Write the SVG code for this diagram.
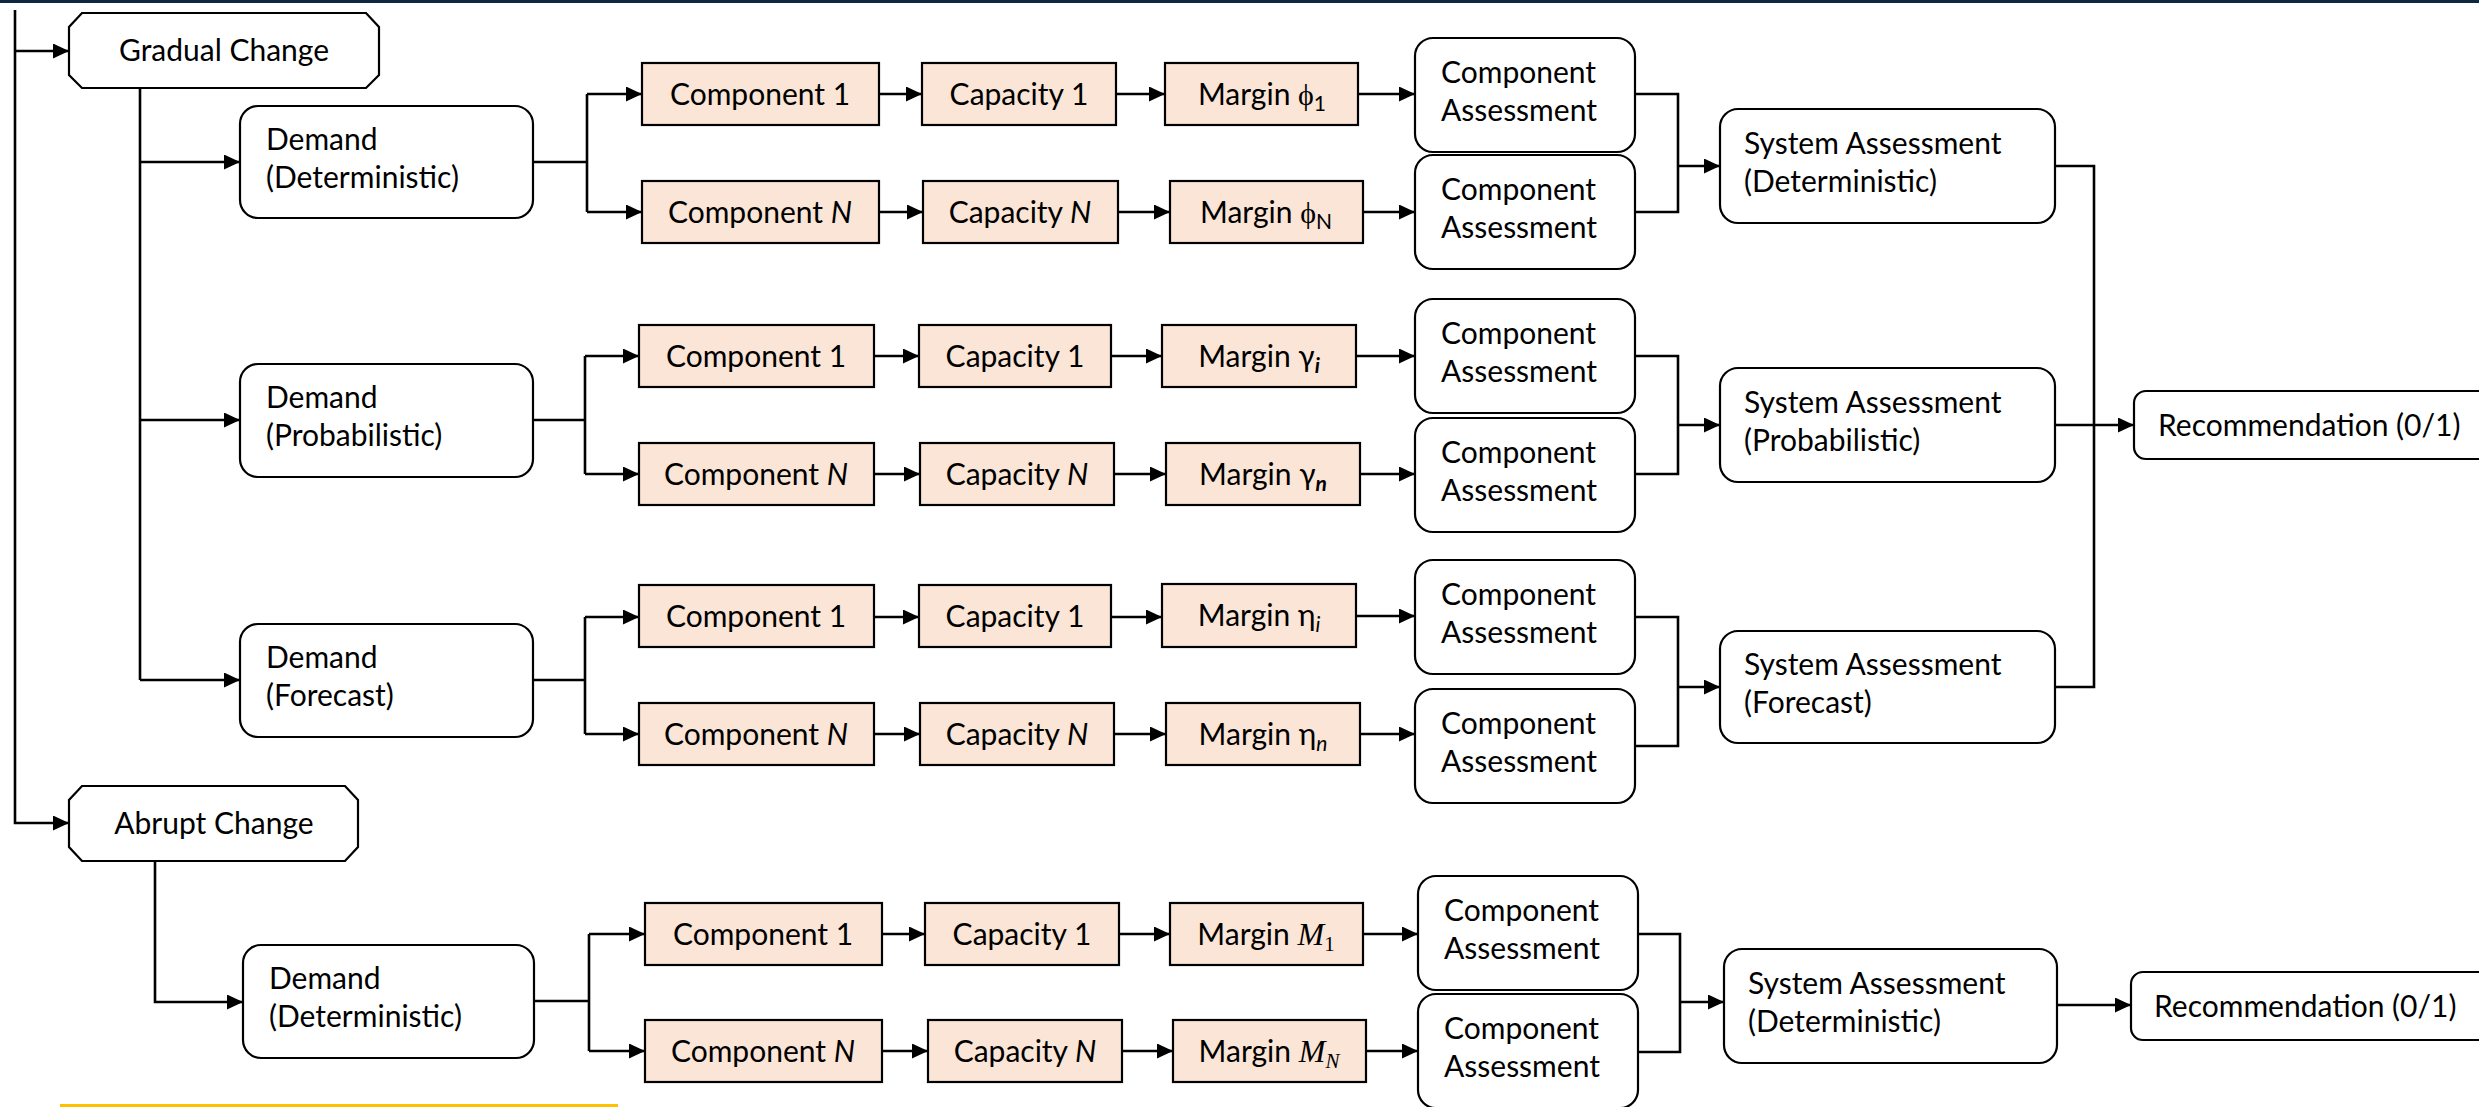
<svg xmlns="http://www.w3.org/2000/svg" width="2479" height="1107" viewBox="0 0 2479 1107">
  <style>
    text { font-family: "Lato", "Noto Sans", "DejaVu Sans", sans-serif; font-size: 30px; fill: #000; }
    .mid { text-anchor: middle; }
    .box { fill: #fbe5d6; stroke: #000; stroke-width: 2.2; }
    .node { fill: #fff; stroke: #000; stroke-width: 2.2; }
    .wire { fill: none; stroke: #000; stroke-width: 2.6; }
    .arr { marker-end: url(#head); }
    .sub { font-size: 21px; }
    .it { font-style: italic; }
    .bi { font-style: italic; font-weight: bold; }
    .phi { font-family: "Liberation Serif", "DejaVu Serif", serif; }
    .math { font-family: "Liberation Serif", "DejaVu Serif", serif; font-style: italic; font-size: 32px; }
    .mathsub { font-family: "Liberation Serif", "DejaVu Serif", serif; font-size: 21px; }
  </style>
  <defs>
    <marker id="head" markerUnits="userSpaceOnUse" markerWidth="16" markerHeight="15" refX="16" refY="7.5" orient="auto">
      <path d="M0,0 L16,7.5 L0,15 z" fill="#000"/>
    </marker>
  </defs>

  <rect x="0" y="0" width="2479" height="3" fill="#0e2841"/>
  <line x1="60" y1="1105.5" x2="618" y2="1105.5" stroke="#ffc000" stroke-width="3"/>

  <!-- connectors -->
  <g id="connectors">
    <path class="wire" d="M15,10 V823 H69" marker-end="url(#head)"/>
    <path class="wire arr" d="M15,51 H69"/>
    <path class="wire" d="M140,88 V680"/>
    <path class="wire arr" d="M140,162 H240"/>
    <path class="wire arr" d="M140,420 H240"/>
    <path class="wire arr" d="M140,680 H240"/>
    <path class="wire arr" d="M155,861 V1002 H243"/>

    <!-- deterministic branch -->
    <path class="wire" d="M533,162 H587 M587,94 V212"/>
    <path class="wire arr" d="M587,94 H642"/>
    <path class="wire arr" d="M587,212 H642"/>
    <path class="wire arr" d="M879,94 H922"/>
    <path class="wire arr" d="M1116,94 H1165"/>
    <path class="wire arr" d="M1358,94 H1415"/>
    <path class="wire arr" d="M879,212 H923"/>
    <path class="wire arr" d="M1118,212 H1170"/>
    <path class="wire arr" d="M1363,212 H1415"/>
    <path class="wire" d="M1635,94 H1678 V212 H1635"/>
    <path class="wire arr" d="M1678,166 H1720"/>

    <!-- probabilistic branch -->
    <path class="wire" d="M533,420 H585 M585,356 V474"/>
    <path class="wire arr" d="M585,356 H639"/>
    <path class="wire arr" d="M585,474 H639"/>
    <path class="wire arr" d="M874,356 H919"/>
    <path class="wire arr" d="M1111,356 H1162"/>
    <path class="wire arr" d="M1356,356 H1415"/>
    <path class="wire arr" d="M874,474 H920"/>
    <path class="wire arr" d="M1114,474 H1166"/>
    <path class="wire arr" d="M1360,474 H1415"/>
    <path class="wire" d="M1635,356 H1678 V474 H1635"/>
    <path class="wire arr" d="M1678,425 H1720"/>

    <!-- forecast branch -->
    <path class="wire" d="M533,680 H585 M585,617 V734"/>
    <path class="wire arr" d="M585,617 H639"/>
    <path class="wire arr" d="M585,734 H639"/>
    <path class="wire arr" d="M874,617 H919"/>
    <path class="wire arr" d="M1111,617 H1162"/>
    <path class="wire arr" d="M1356,616 H1415"/>
    <path class="wire arr" d="M874,734 H920"/>
    <path class="wire arr" d="M1114,734 H1166"/>
    <path class="wire arr" d="M1360,734 H1415"/>
    <path class="wire" d="M1635,617 H1678 V746 H1635"/>
    <path class="wire arr" d="M1678,687 H1720"/>

    <!-- system results to recommendation -->
    <path class="wire" d="M2055,166 H2094 V687 H2055"/>
    <path class="wire arr" d="M2055,425 H2134"/>

    <!-- abrupt change branch -->
    <path class="wire" d="M534,1001 H589 M589,934 V1051"/>
    <path class="wire arr" d="M589,934 H645"/>
    <path class="wire arr" d="M589,1051 H645"/>
    <path class="wire arr" d="M882,934 H925"/>
    <path class="wire arr" d="M1119,934 H1170"/>
    <path class="wire arr" d="M1363,934 H1418"/>
    <path class="wire arr" d="M882,1051 H928"/>
    <path class="wire arr" d="M1122,1051 H1173"/>
    <path class="wire arr" d="M1366,1051 H1418"/>
    <path class="wire" d="M1638,934 H1680 V1052 H1638"/>
    <path class="wire arr" d="M1680,1002 H1724"/>
    <path class="wire arr" d="M2057,1005 H2131"/>
  </g>

  <!-- change types -->
  <g id="gradual-change">
    <polygon class="node" points="82,13 366,13 379,27 379,75 366,88 82,88 69,75 69,27"/>
    <text class="mid" x="224" y="61">Gradual Change</text>
  </g>
  <g id="abrupt-change">
    <polygon class="node" points="82,786 345,786 358,800 358,847 345,861 82,861 69,847 69,800"/>
    <text class="mid" x="214" y="834">Abrupt Change</text>
  </g>

  <!-- demand nodes -->
  <g id="demand-deterministic">
    <rect class="node" x="240" y="106" width="293" height="112" rx="18"/>
    <text x="266" y="150">Demand</text>
    <text x="266" y="188">(Deterministic)</text>
  </g>
  <g id="demand-probabilistic">
    <rect class="node" x="240" y="364" width="293" height="113" rx="18"/>
    <text x="266" y="408">Demand</text>
    <text x="266" y="446">(Probabilistic)</text>
  </g>
  <g id="demand-forecast">
    <rect class="node" x="240" y="624" width="293" height="113" rx="18"/>
    <text x="266" y="668">Demand</text>
    <text x="266" y="706">(Forecast)</text>
  </g>
  <g id="demand-abrupt">
    <rect class="node" x="243" y="945" width="291" height="113" rx="18"/>
    <text x="269" y="989">Demand</text>
    <text x="269" y="1027">(Deterministic)</text>
  </g>

  <!-- deterministic chain -->
  <g id="det-component-1"><rect class="box" x="642" y="63" width="237" height="62"/><text class="mid" x="760" y="105">Component 1</text></g>
  <g id="det-capacity-1"><rect class="box" x="922" y="63" width="194" height="62"/><text class="mid" x="1019" y="105">Capacity 1</text></g>
  <g id="det-margin-1"><rect class="box" x="1165" y="63" width="193" height="62"/><text class="mid" x="1262" y="105">Margin <tspan class="phi">ϕ</tspan><tspan class="sub" dy="6">1</tspan></text></g>
  <g id="det-component-n"><rect class="box" x="642" y="181" width="237" height="62"/><text class="mid" x="760" y="223">Component <tspan class="it">N</tspan></text></g>
  <g id="det-capacity-n"><rect class="box" x="923" y="181" width="195" height="62"/><text class="mid" x="1020" y="223">Capacity <tspan class="it">N</tspan></text></g>
  <g id="det-margin-n"><rect class="box" x="1170" y="181" width="193" height="62"/><text class="mid" x="1266" y="223">Margin <tspan class="phi">ϕ</tspan><tspan class="sub" dy="6">N</tspan></text></g>
  <g id="det-assess-1"><rect class="node" x="1415" y="38" width="220" height="114" rx="18"/><text x="1441" y="83">Component</text><text x="1441" y="121">Assessment</text></g>
  <g id="det-assess-n"><rect class="node" x="1415" y="155" width="220" height="114" rx="18"/><text x="1441" y="200">Component</text><text x="1441" y="238">Assessment</text></g>
  <g id="det-system"><rect class="node" x="1720" y="109" width="335" height="114" rx="18"/><text x="1744" y="154">System Assessment</text><text x="1744" y="192">(Deterministic)</text></g>

  <!-- probabilistic chain -->
  <g id="prob-component-1"><rect class="box" x="639" y="325" width="235" height="62"/><text class="mid" x="756" y="367">Component 1</text></g>
  <g id="prob-capacity-1"><rect class="box" x="919" y="325" width="192" height="62"/><text class="mid" x="1015" y="367">Capacity 1</text></g>
  <g id="prob-margin-1"><rect class="box" x="1162" y="325" width="194" height="62"/><text class="mid" x="1259" y="367">Margin γ<tspan class="sub bi" dy="6">i</tspan></text></g>
  <g id="prob-component-n"><rect class="box" x="639" y="443" width="235" height="62"/><text class="mid" x="756" y="485">Component <tspan class="it">N</tspan></text></g>
  <g id="prob-capacity-n"><rect class="box" x="920" y="443" width="194" height="62"/><text class="mid" x="1017" y="485">Capacity <tspan class="it">N</tspan></text></g>
  <g id="prob-margin-n"><rect class="box" x="1166" y="443" width="194" height="62"/><text class="mid" x="1263" y="485">Margin γ<tspan class="sub bi" dy="6">n</tspan></text></g>
  <g id="prob-assess-1"><rect class="node" x="1415" y="299" width="220" height="114" rx="18"/><text x="1441" y="344">Component</text><text x="1441" y="382">Assessment</text></g>
  <g id="prob-assess-n"><rect class="node" x="1415" y="418" width="220" height="114" rx="18"/><text x="1441" y="463">Component</text><text x="1441" y="501">Assessment</text></g>
  <g id="prob-system"><rect class="node" x="1720" y="368" width="335" height="114" rx="18"/><text x="1744" y="413">System Assessment</text><text x="1744" y="451">(Probabilistic)</text></g>

  <!-- forecast chain -->
  <g id="fc-component-1"><rect class="box" x="639" y="585" width="235" height="62"/><text class="mid" x="756" y="627">Component 1</text></g>
  <g id="fc-capacity-1"><rect class="box" x="919" y="585" width="192" height="62"/><text class="mid" x="1015" y="627">Capacity 1</text></g>
  <g id="fc-margin-1"><rect class="box" x="1162" y="584" width="194" height="63"/><text class="mid" x="1259" y="626">Margin η<tspan class="sub it" dy="6">i</tspan></text></g>
  <g id="fc-component-n"><rect class="box" x="639" y="703" width="235" height="62"/><text class="mid" x="756" y="745">Component <tspan class="it">N</tspan></text></g>
  <g id="fc-capacity-n"><rect class="box" x="920" y="703" width="194" height="62"/><text class="mid" x="1017" y="745">Capacity <tspan class="it">N</tspan></text></g>
  <g id="fc-margin-n"><rect class="box" x="1166" y="703" width="194" height="62"/><text class="mid" x="1263" y="745">Margin η<tspan class="sub it" dy="6">n</tspan></text></g>
  <g id="fc-assess-1"><rect class="node" x="1415" y="560" width="220" height="114" rx="18"/><text x="1441" y="605">Component</text><text x="1441" y="643">Assessment</text></g>
  <g id="fc-assess-n"><rect class="node" x="1415" y="689" width="220" height="114" rx="18"/><text x="1441" y="734">Component</text><text x="1441" y="772">Assessment</text></g>
  <g id="fc-system"><rect class="node" x="1720" y="631" width="335" height="112" rx="18"/><text x="1744" y="675">System Assessment</text><text x="1744" y="713">(Forecast)</text></g>

  <g id="recommendation-gradual"><rect class="node" x="2134" y="391" width="360" height="68" rx="12"/><text x="2158" y="436">Recommendation (0/1)</text></g>

  <!-- abrupt change chain -->
  <g id="ab-component-1"><rect class="box" x="645" y="903" width="237" height="62"/><text class="mid" x="763" y="945">Component 1</text></g>
  <g id="ab-capacity-1"><rect class="box" x="925" y="903" width="194" height="62"/><text class="mid" x="1022" y="945">Capacity 1</text></g>
  <g id="ab-margin-1"><rect class="box" x="1170" y="903" width="193" height="62"/><text class="mid" x="1266" y="945">Margin <tspan class="math">M</tspan><tspan class="mathsub" dy="6">1</tspan></text></g>
  <g id="ab-component-n"><rect class="box" x="645" y="1020" width="237" height="62"/><text class="mid" x="763" y="1062">Component <tspan class="it">N</tspan></text></g>
  <g id="ab-capacity-n"><rect class="box" x="928" y="1020" width="194" height="62"/><text class="mid" x="1025" y="1062">Capacity <tspan class="it">N</tspan></text></g>
  <g id="ab-margin-n"><rect class="box" x="1173" y="1020" width="193" height="62"/><text class="mid" x="1269" y="1062">Margin <tspan class="math">M</tspan><tspan class="mathsub it" dy="6">N</tspan></text></g>
  <g id="ab-assess-1"><rect class="node" x="1418" y="876" width="220" height="114" rx="18"/><text x="1444" y="921">Component</text><text x="1444" y="959">Assessment</text></g>
  <g id="ab-assess-n"><rect class="node" x="1418" y="994" width="220" height="114" rx="18"/><text x="1444" y="1039">Component</text><text x="1444" y="1077">Assessment</text></g>
  <g id="ab-system"><rect class="node" x="1724" y="949" width="333" height="114" rx="18"/><text x="1748" y="994">System Assessment</text><text x="1748" y="1032">(Deterministic)</text></g>
  <g id="recommendation-abrupt"><rect class="node" x="2131" y="972" width="360" height="68" rx="12"/><text x="2154" y="1017">Recommendation (0/1)</text></g>
</svg>
